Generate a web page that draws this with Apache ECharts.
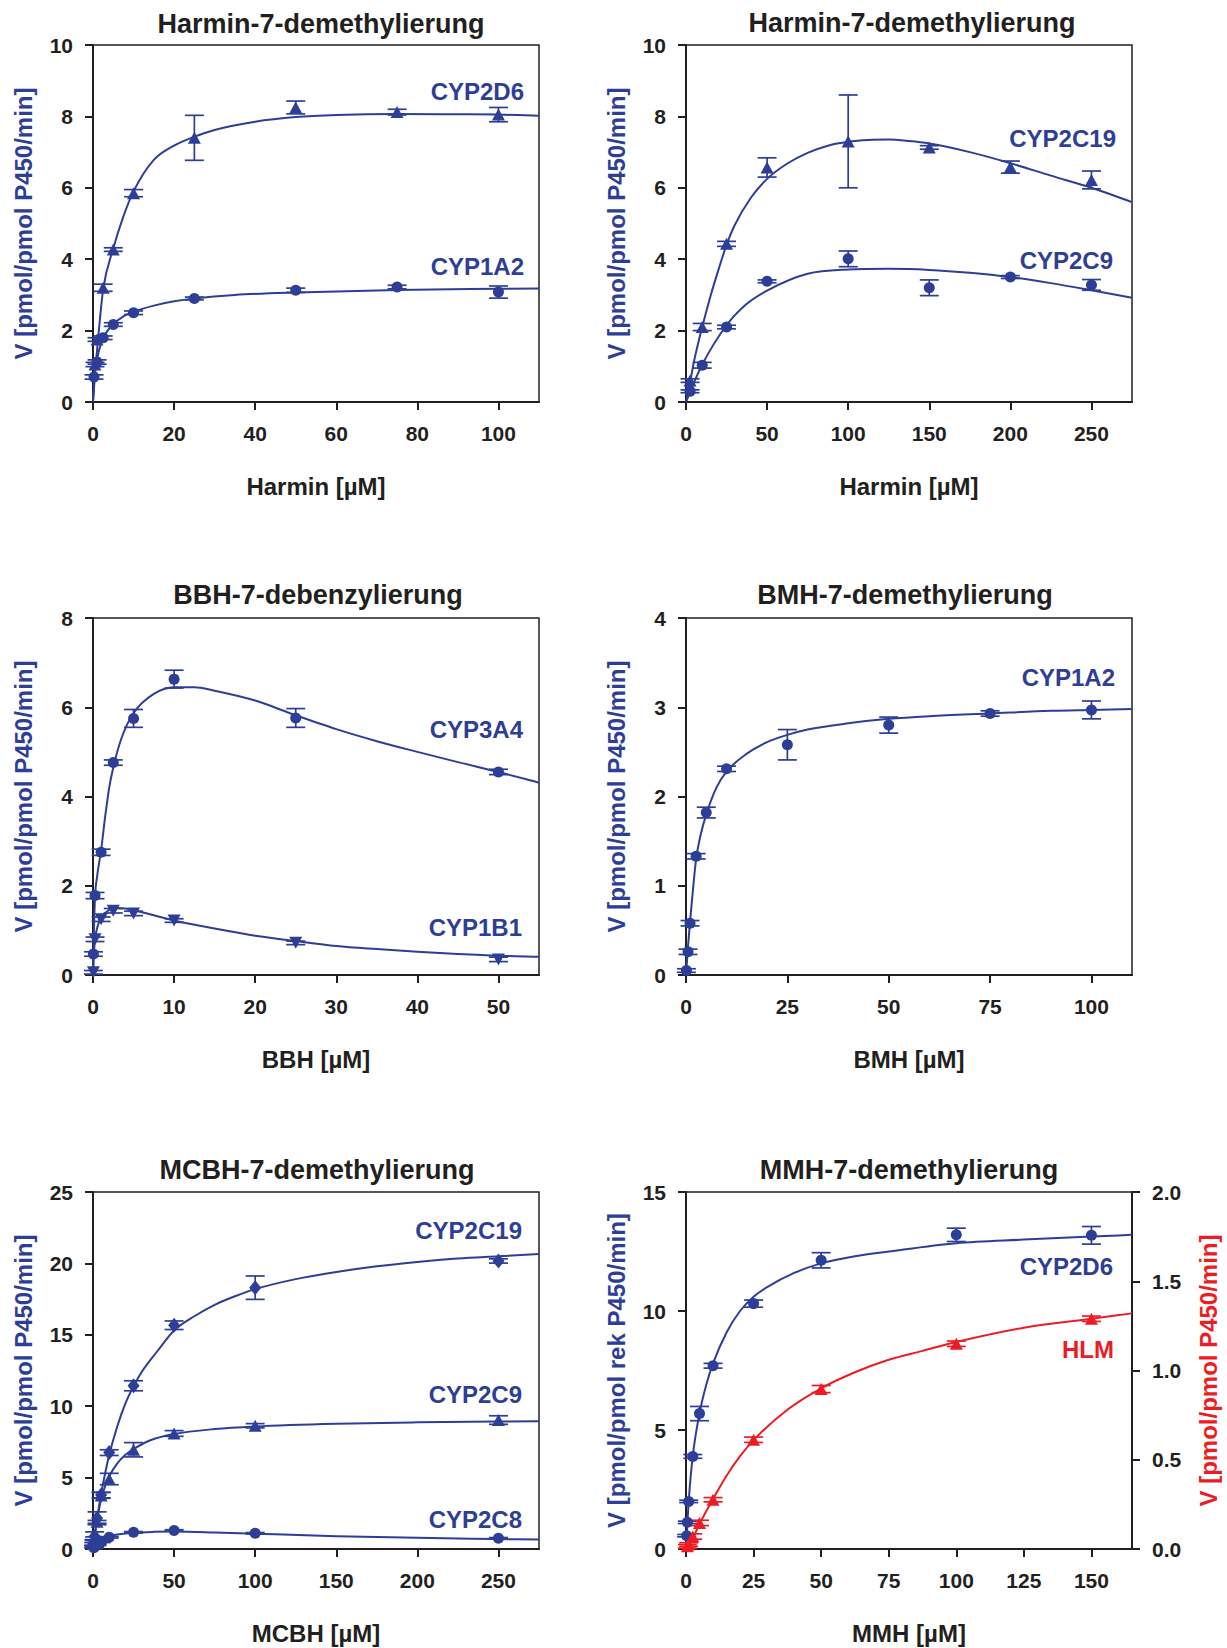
<!DOCTYPE html>
<html><head><meta charset="utf-8">
<script src="https://cdn.jsdelivr.net/npm/echarts@6/dist/echarts.min.js"></script>
<style>html,body{margin:0;padding:0;background:#fff}#c{width:1227px;height:1648px}</style>
</head><body><div id="c"></div>
<script>
// ---------- Panel 1: Harmin (CYP2D6, CYP1A2) ----------
const p1XTicks = [0, 20, 40, 60, 80, 100];
const p1YTicks = [0, 2, 4, 6, 8, 10];
const p1X_2D6 = [0.5, 1, 2.5, 5, 10, 25, 50, 75, 100];
const p1Y_2D6 = [1.05, 1.75, 3.2, 4.27, 5.85, 7.4, 8.25, 8.12, 8.05];
const p1E_2D6 = [0.06, 0.05, 0.1, 0.05, 0.1, 0.63, 0.18, 0.08, 0.2];
const p1X_1A2 = [0.25, 1, 2.5, 5, 10, 25, 50, 75, 100];
const p1Y_1A2 = [0.7, 1.12, 1.8, 2.17, 2.5, 2.9, 3.13, 3.22, 3.08];
const p1E_1A2 = [0.06, 0.06, 0.05, 0.05, 0.05, 0.04, 0.06, 0.05, 0.17];
const c1X_2D6 = [0, 0.5, 1, 2.5, 5, 7.5, 10, 15, 20, 25, 30, 40, 50, 60, 75, 90, 100, 110];
const c1Y_2D6 = [0, 0.8, 1.45, 3.15, 4.3, 5.2, 5.9, 6.78, 7.18, 7.43, 7.62, 7.85, 7.98, 8.04, 8.07, 8.06, 8.05, 8.02];
const c1X_1A2 = [0, 0.25, 0.5, 1, 2, 3, 5, 7.5, 10, 15, 20, 25, 35, 50, 75, 100, 110];
const c1Y_1A2 = [0, 0.5, 0.8, 1.2, 1.65, 1.9, 2.18, 2.4, 2.53, 2.7, 2.82, 2.9, 3.0, 3.07, 3.14, 3.17, 3.18];

// ---------- Panel 2: Harmin (CYP2C19, CYP2C9) ----------
const p2XTicks = [0, 50, 100, 150, 200, 250];
const p2YTicks = [0, 2, 4, 6, 8, 10];
const p2X_2C19 = [2.5, 10, 25, 50, 100, 150, 200, 250];
const p2Y_2C19 = [0.6, 2.1, 4.43, 6.57, 7.3, 7.13, 6.58, 6.22];
const p2E_2C19 = [0.05, 0.1, 0.07, 0.27, 1.3, 0.05, 0.17, 0.25];
const p2X_2C9 = [2.5, 10, 25, 50, 100, 150, 200, 250];
const p2Y_2C9 = [0.3, 1.03, 2.1, 3.38, 4.01, 3.2, 3.5, 3.28];
const p2E_2C9 = [0.04, 0.08, 0.05, 0.04, 0.22, 0.22, 0.04, 0.15];
const c2X_2C19 = [0, 2.5, 5, 10, 15, 20, 25, 30, 40, 50, 62.5, 75, 87.5, 100, 112.5, 125, 137.5, 150, 175, 200, 225, 250, 275];
const c2Y_2C19 = [0, 0.55, 1.15, 2.1, 2.95, 3.7, 4.4, 4.95, 5.72, 6.25, 6.68, 6.98, 7.18, 7.29, 7.34, 7.35, 7.31, 7.24, 7.0, 6.69, 6.34, 6.0, 5.6];
const c2X_2C9 = [0, 5, 10, 25, 37.5, 50, 75, 100, 125, 150, 175, 200, 225, 250, 275];
const c2Y_2C9 = [0, 0.55, 1.05, 2.15, 2.75, 3.12, 3.59, 3.71, 3.73, 3.7, 3.62, 3.5, 3.33, 3.13, 2.92];

// ---------- Panel 3: BBH (CYP3A4, CYP1B1) ----------
const p3XTicks = [0, 10, 20, 30, 40, 50];
const p3YTicks = [0, 2, 4, 6, 8];
const p3X_3A4 = [0.05, 0.25, 1, 2.5, 5, 10, 25, 50];
const p3Y_3A4 = [0.47, 1.78, 2.75, 4.76, 5.75, 6.63, 5.76, 4.55];
const p3E_3A4 = [0.05, 0.07, 0.07, 0.06, 0.2, 0.2, 0.21, 0.06];
const p3X_1B1 = [0.05, 0.25, 1, 2.5, 5, 10, 25, 50];
const p3Y_1B1 = [0.06, 0.8, 1.25, 1.44, 1.38, 1.22, 0.72, 0.35];
const p3E_1B1 = [0.04, 0.05, 0.05, 0.05, 0.05, 0.04, 0.04, 0.05];
const c3X_3A4 = [0, 0.1, 0.25, 0.5, 1, 1.5, 2, 2.5, 3.5, 5, 7.5, 10, 12.5, 15, 20, 25, 30, 35, 40, 45, 50, 55];
const c3Y_3A4 = [0, 0.9, 1.75, 2.2, 2.8, 3.55, 4.2, 4.65, 5.3, 5.87, 6.3, 6.45, 6.45, 6.37, 6.15, 5.82, 5.51, 5.24, 5.0, 4.77, 4.55, 4.31];
const c3X_1B1 = [0, 0.1, 0.25, 0.5, 1, 2, 3, 4, 5, 7.5, 10, 15, 20, 25, 30, 35, 40, 45, 50, 55];
const c3Y_1B1 = [0, 0.45, 0.8, 1.05, 1.28, 1.46, 1.5, 1.49, 1.45, 1.34, 1.22, 1.04, 0.88, 0.76, 0.65, 0.58, 0.52, 0.47, 0.43, 0.41];

// ---------- Panel 4: BMH (CYP1A2) ----------
const p4XTicks = [0, 25, 50, 75, 100];
const p4YTicks = [0, 1, 2, 3, 4];
const p4X_1A2 = [0.1, 0.5, 1, 2.5, 5, 10, 25, 50, 75, 100];
const p4Y_1A2 = [0.05, 0.26, 0.58, 1.33, 1.82, 2.31, 2.58, 2.8, 2.93, 2.97];
const p4E_1A2 = [0.02, 0.03, 0.03, 0.03, 0.06, 0.03, 0.17, 0.09, 0.03, 0.1];
const c4X_1A2 = [0, 0.5, 1, 1.5, 2.5, 3.5, 5, 7.5, 10, 15, 20, 25, 30, 40, 50, 60, 75, 90, 100, 110];
const c4Y_1A2 = [0, 0.32, 0.6, 0.85, 1.3, 1.55, 1.8, 2.1, 2.28, 2.48, 2.61, 2.69, 2.75, 2.82, 2.87, 2.9, 2.93, 2.96, 2.97, 2.98];

// ---------- Panel 5: MCBH (CYP2C19, CYP2C9, CYP2C8) ----------
const p5XTicks = [0, 50, 100, 150, 200, 250];
const p5YTicks = [0, 5, 10, 15, 20, 25];
const p5X_2C19 = [0.5, 1, 2.5, 5, 10, 25, 50, 100, 250];
const p5Y_2C19 = [0.45, 0.9, 2.15, 3.78, 6.75, 11.43, 15.67, 18.3, 20.17];
const p5E_2C19 = [0.2, 0.3, 0.45, 0.2, 0.2, 0.35, 0.3, 0.82, 0.15];
const p5X_2C9 = [0.5, 1, 2.5, 5, 10, 25, 50, 100, 250];
const p5Y_2C9 = [0.35, 0.75, 1.9, 3.75, 4.9, 6.95, 8.09, 8.63, 9.03];
const p5E_2C9 = [0.1, 0.1, 0.1, 0.2, 0.4, 0.5, 0.2, 0.15, 0.3];
const p5X_2C8 = [0.5, 1, 2.5, 5, 10, 25, 50, 100, 250];
const p5Y_2C8 = [0.08, 0.15, 0.3, 0.5, 0.82, 1.17, 1.3, 1.1, 0.75];
const p5E_2C8 = [0.03, 0.03, 0.05, 0.05, 0.05, 0.05, 0.05, 0.05, 0.05];
const c5X_2C19 = [0, 1, 2.5, 5, 7.5, 10, 15, 20, 25, 30, 40, 50, 62.5, 75, 87.5, 100, 125, 150, 175, 200, 225, 250, 275];
const c5Y_2C19 = [0, 0.9, 2.1, 3.85, 5.3, 6.6, 8.6, 10.2, 11.4, 12.4, 13.9, 15.3, 16.3, 17.1, 17.7, 18.2, 18.9, 19.4, 19.8, 20.1, 20.35, 20.5, 20.65];
const c5X_2C9 = [0, 1, 2.5, 5, 7.5, 10, 15, 20, 25, 35, 50, 75, 100, 150, 200, 250, 275];
const c5Y_2C9 = [0, 0.9, 2.0, 3.5, 4.4, 5.1, 6.0, 6.6, 7.0, 7.6, 8.05, 8.4, 8.58, 8.77, 8.87, 8.93, 8.95];
const c5X_2C8 = [0, 1, 2.5, 5, 10, 15, 25, 37.5, 50, 75, 100, 150, 200, 250, 275];
const c5Y_2C8 = [0, 0.3, 0.55, 0.75, 0.92, 1.02, 1.14, 1.2, 1.22, 1.16, 1.07, 0.9, 0.78, 0.7, 0.66];

// ---------- Panel 6: MMH (CYP2D6 left axis, HLM right axis) ----------
const p6XTicks = [0, 25, 50, 75, 100, 125, 150];
const p6YTicks = [0, 5, 10, 15];
const p6Y2Ticks = [0, 0.5, 1, 1.5, 2];
const p6X_2D6 = [0.25, 0.5, 1, 2.5, 5, 10, 25, 50, 100, 150];
const p6Y_2D6 = [0.56, 1.12, 2.0, 3.89, 5.69, 7.7, 10.31, 12.13, 13.2, 13.18];
const p6E_2D6 = [0.05, 0.05, 0.05, 0.08, 0.3, 0.1, 0.15, 0.32, 0.28, 0.37];
const p6X_HLM = [0.5, 1, 2.5, 5, 10, 25, 50, 100, 150];
const p6Y_HLM = [0.015, 0.025, 0.07, 0.146, 0.276, 0.612, 0.896, 1.15, 1.29];
const p6E_HLM = [0.01, 0.01, 0.015, 0.015, 0.012, 0.015, 0.02, 0.015, 0.015];
const c6X_2D6 = [0, 0.5, 1, 2.5, 5, 7.5, 10, 15, 20, 25, 30, 40, 50, 62.5, 75, 100, 125, 150, 165];
const c6Y_2D6 = [0, 1.0, 2.0, 3.9, 5.7, 6.9, 7.8, 9.1, 10.0, 10.6, 11.0, 11.6, 12.0, 12.3, 12.5, 12.85, 13.0, 13.13, 13.2];
const c6X_HLM = [0, 2.5, 5, 10, 15, 20, 25, 37.5, 50, 62.5, 75, 87.5, 100, 125, 150, 165];
const c6Y_HLM = [0, 0.06, 0.14, 0.28, 0.41, 0.52, 0.61, 0.78, 0.9, 0.99, 1.06, 1.11, 1.16, 1.24, 1.29, 1.32];

// ---------- text ----------
const titles = ['Harmin-7-demethylierung', 'Harmin-7-demethylierung', 'BBH-7-debenzylierung',
                'BMH-7-demethylierung', 'MCBH-7-demethylierung', 'MMH-7-demethylierung'];
const xNames = ['Harmin [µM]', 'Harmin [µM]', 'BBH [µM]', 'BMH [µM]', 'MCBH [µM]', 'MMH [µM]'];
const yName = 'V [pmol/pmol P450/min]';
const yNameRek = 'V [pmol/pmol rek P450/min]';

// ---------- styling ----------
const BLUE = '#2D3E97', RED = '#ED1C24', DARK = '#231F20';
const FONT = '"Liberation Sans", Arial, Helvetica, sans-serif';
const GL = [93, 686], GT = [45, 618, 1192], GW = 446, GH = 357;
const gridPos = [[0,0],[1,0],[0,1],[1,1],[0,2],[1,2]];

const zip = (xs, ys) => xs.map((x, i) => [x, ys[i]]);
const zip3 = (xs, ys, es) => xs.map((x, i) => [x, ys[i], es[i]]);

const grids = gridPos.map(([c, r]) => ({
  left: GL[c], top: GT[r], width: GW, height: GH, show: true,
  borderColor: DARK, borderWidth: 1.5, backgroundColor: 'transparent'
}));

function xAx(gi, max, ticks, name) {
  return {
    type: 'value', gridIndex: gi, min: 0, max: max, interval: ticks[1] - ticks[0],
    name: name, nameLocation: 'middle', nameGap: 72,
    nameTextStyle: { fontFamily: FONT, fontWeight: 'bold', fontSize: 24, color: DARK },
    axisLine: { show: true, onZero: false, lineStyle: { color: DARK, width: 2 } },
    axisTick: { show: true, inside: false, length: 8, customValues: ticks, lineStyle: { color: DARK, width: 2 } },
    axisLabel: { show: true, margin: 21, customValues: ticks, fontFamily: FONT, fontWeight: 'bold', fontSize: 21, color: DARK,
      formatter: v => (ticks.indexOf(v) >= 0 ? String(v) : '') },
    splitLine: { show: false }
  };
}
function yAx(gi, ticks, name, opt) {
  opt = opt || {};
  const color = opt.color || BLUE;
  return {
    type: 'value', gridIndex: gi, min: 0, max: ticks[ticks.length - 1], interval: ticks[1] - ticks[0],
    position: opt.right ? 'right' : 'left',
    name: name, nameLocation: 'middle', nameGap: opt.gap || 58, nameRotate: 90,
    nameTextStyle: { fontFamily: FONT, fontWeight: 'bold', fontSize: 24, color: color },
    axisLine: { show: true, onZero: false, lineStyle: { color: DARK, width: 2 } },
    axisTick: { show: true, inside: false, length: 8, customValues: ticks, lineStyle: { color: DARK, width: 2 } },
    axisLabel: { show: true, margin: 20, customValues: ticks, fontFamily: FONT, fontWeight: 'bold', fontSize: 21, color: DARK,
      formatter: v => (ticks.indexOf(v) >= 0 ? (opt.dec ? v.toFixed(1) : String(v)) : '') },
    splitLine: { show: false }
  };
}

const xAxes = [
  xAx(0, 110, p1XTicks, xNames[0]), xAx(1, 275, p2XTicks, xNames[1]), xAx(2, 55, p3XTicks, xNames[2]),
  xAx(3, 110, p4XTicks, xNames[3]), xAx(4, 275, p5XTicks, xNames[4]), xAx(5, 165, p6XTicks, xNames[5])
];
const yAxes = [
  yAx(0, p1YTicks, yName), yAx(1, p2YTicks, yName), yAx(2, p3YTicks, yName),
  yAx(3, p4YTicks, yName), yAx(4, p5YTicks, yName), yAx(5, p6YTicks, yNameRek),
  yAx(5, p6Y2Ticks, yName, { right: true, color: RED, dec: true, gap: 64 })
];

// Smooth (monotone cubic) path through the read curve points, in pixel space
function monotonePath(P) {
  const n = P.length;
  if (n < 2) return '';
  const s = [], m = new Array(n);
  for (let i = 0; i < n - 1; i++) {
    const dx = P[i + 1][0] - P[i][0];
    s.push(dx === 0 ? 0 : (P[i + 1][1] - P[i][1]) / dx);
  }
  m[0] = s[0]; m[n - 1] = s[n - 2];
  for (let i = 1; i < n - 1; i++) m[i] = (s[i - 1] * s[i] <= 0) ? 0 : (s[i - 1] + s[i]) / 2;
  for (let i = 0; i < n - 1; i++) {
    if (s[i] === 0) { m[i] = 0; m[i + 1] = 0; continue; }
    const a = m[i] / s[i], b = m[i + 1] / s[i], h = a * a + b * b;
    if (h > 9) { const t = 3 / Math.sqrt(h); m[i] = t * a * s[i]; m[i + 1] = t * b * s[i]; }
  }
  let d = 'M' + P[0][0] + ',' + P[0][1];
  for (let i = 0; i < n - 1; i++) {
    const dx = (P[i + 1][0] - P[i][0]) / 3;
    d += ' C' + (P[i][0] + dx) + ',' + (P[i][1] + m[i] * dx) + ' ' +
         (P[i + 1][0] - dx) + ',' + (P[i + 1][1] - m[i + 1] * dx) + ' ' + P[i + 1][0] + ',' + P[i + 1][1];
  }
  return d;
}
function curve(ax, ay, xs, ys, color) {
  return { type: 'custom', xAxisIndex: ax, yAxisIndex: ay, data: zip(xs, ys), silent: true, z: 2,
    encode: { x: 0, y: 1 },
    renderItem: function (params, api) {
      if (params.dataIndex !== 0) return { type: 'group', children: [] };
      const P = xs.map((x, i) => api.coord([x, ys[i]]));
      return { type: 'path', shape: { pathData: monotonePath(P) },
        style: { stroke: color, fill: 'none', lineWidth: 2 } };
    } };
}
function errs(ax, ay, xs, ys, es, color) {
  return { type: 'custom', xAxisIndex: ax, yAxisIndex: ay, data: zip3(xs, ys, es), z: 3, silent: true,
    encode: { x: 0, y: 1 },
    renderItem: function (params, api) {
      const x = api.value(0), y = api.value(1), e = api.value(2);
      const t = api.coord([x, y + e]), b = api.coord([x, y - e]);
      const w = 9.5, st = { stroke: color, lineWidth: 1.7 };
      return { type: 'group', children: [
        { type: 'line', shape: { x1: t[0], y1: t[1], x2: b[0], y2: b[1] }, style: st },
        { type: 'line', shape: { x1: t[0] - w, y1: t[1], x2: t[0] + w, y2: t[1] }, style: st },
        { type: 'line', shape: { x1: b[0] - w, y1: b[1], x2: b[0] + w, y2: b[1] }, style: st }
      ] };
    } };
}
function pts(ax, ay, xs, ys, symbol, size, color, rot) {
  return { type: 'scatter', xAxisIndex: ax, yAxisIndex: ay, data: zip(xs, ys), symbol: symbol,
    symbolSize: size, symbolRotate: rot || 0, z: 4, silent: true, itemStyle: { color: color, opacity: 1 } };
}

const TRI = [13, 12], CIR = 11, DIA = [12, 15];
const series = [
  curve(0,0,c1X_2D6,c1Y_2D6,BLUE), curve(0,0,c1X_1A2,c1Y_1A2,BLUE),
  errs(0,0,p1X_2D6,p1Y_2D6,p1E_2D6,BLUE), errs(0,0,p1X_1A2,p1Y_1A2,p1E_1A2,BLUE),
  pts(0,0,p1X_2D6,p1Y_2D6,'triangle',TRI,BLUE), pts(0,0,p1X_1A2,p1Y_1A2,'circle',CIR,BLUE),

  curve(1,1,c2X_2C19,c2Y_2C19,BLUE), curve(1,1,c2X_2C9,c2Y_2C9,BLUE),
  errs(1,1,p2X_2C19,p2Y_2C19,p2E_2C19,BLUE), errs(1,1,p2X_2C9,p2Y_2C9,p2E_2C9,BLUE),
  pts(1,1,p2X_2C19,p2Y_2C19,'triangle',TRI,BLUE), pts(1,1,p2X_2C9,p2Y_2C9,'circle',CIR,BLUE),

  curve(2,2,c3X_3A4,c3Y_3A4,BLUE), curve(2,2,c3X_1B1,c3Y_1B1,BLUE),
  errs(2,2,p3X_3A4,p3Y_3A4,p3E_3A4,BLUE), errs(2,2,p3X_1B1,p3Y_1B1,p3E_1B1,BLUE),
  pts(2,2,p3X_3A4,p3Y_3A4,'circle',CIR,BLUE), pts(2,2,p3X_1B1,p3Y_1B1,'triangle',TRI,BLUE,180),

  curve(3,3,c4X_1A2,c4Y_1A2,BLUE),
  errs(3,3,p4X_1A2,p4Y_1A2,p4E_1A2,BLUE),
  pts(3,3,p4X_1A2,p4Y_1A2,'circle',CIR,BLUE),

  curve(4,4,c5X_2C19,c5Y_2C19,BLUE), curve(4,4,c5X_2C9,c5Y_2C9,BLUE), curve(4,4,c5X_2C8,c5Y_2C8,BLUE),
  errs(4,4,p5X_2C19,p5Y_2C19,p5E_2C19,BLUE), errs(4,4,p5X_2C9,p5Y_2C9,p5E_2C9,BLUE), errs(4,4,p5X_2C8,p5Y_2C8,p5E_2C8,BLUE),
  pts(4,4,p5X_2C19,p5Y_2C19,'diamond',DIA,BLUE), pts(4,4,p5X_2C9,p5Y_2C9,'triangle',TRI,BLUE), pts(4,4,p5X_2C8,p5Y_2C8,'circle',CIR,BLUE),

  curve(5,5,c6X_2D6,c6Y_2D6,BLUE), curve(5,6,c6X_HLM,c6Y_HLM,RED),
  errs(5,5,p6X_2D6,p6Y_2D6,p6E_2D6,BLUE), errs(5,6,p6X_HLM,p6Y_HLM,p6E_HLM,RED),
  pts(5,5,p6X_2D6,p6Y_2D6,'circle',CIR,BLUE), pts(5,6,p6X_HLM,p6Y_HLM,'triangle',TRI,RED)
];

// text positions (layout)
const titlePos = [[321, 24], [912, 23], [318, 595], [905, 595], [317, 1170], [909, 1170]];
const seriesLabels = [
  ['CYP2D6', 524, 91, BLUE], ['CYP1A2', 524, 266, BLUE],
  ['CYP2C19', 1116, 138, BLUE], ['CYP2C9', 1113, 260, BLUE],
  ['CYP3A4', 523, 729, BLUE], ['CYP1B1', 522, 927, BLUE],
  ['CYP1A2', 1115, 677, BLUE],
  ['CYP2C19', 522, 1230, BLUE], ['CYP2C9', 522, 1394, BLUE], ['CYP2C8', 522, 1519, BLUE],
  ['CYP2D6', 1113, 1266, BLUE], ['HLM', 1114, 1349, RED]
];
const graphics = [];
titles.forEach((t, i) => graphics.push({ type: 'text', x: titlePos[i][0], y: titlePos[i][1], silent: true,
  style: { text: t, fill: DARK, fontFamily: FONT, fontWeight: 'bold', fontSize: 27, align: 'center', verticalAlign: 'middle' } }));
seriesLabels.forEach(s => graphics.push({ type: 'text', x: s[1], y: s[2], silent: true,
  style: { text: s[0], fill: s[3], fontFamily: FONT, fontWeight: 'bold', fontSize: 24, align: 'right', verticalAlign: 'middle' } }));

const chart = echarts.init(document.getElementById('c'), null, { renderer: 'svg', width: 1227, height: 1648 });
chart.setOption({
  backgroundColor: '#ffffff',
  animation: false,
  grid: grids,
  xAxis: xAxes,
  yAxis: yAxes,
  series: series,
  graphic: graphics
});
</script></body></html>
